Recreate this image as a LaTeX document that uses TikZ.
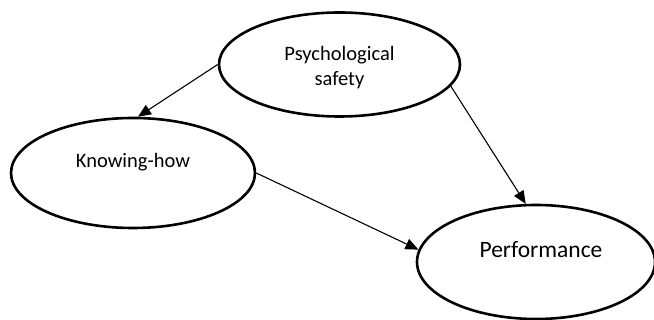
\documentclass[tikz,border=0pt]{standalone}
\usepackage{fontspec}
\setmainfont{Carlito}
\usepackage{tikz}
\usetikzlibrary{arrows.meta,positioning,shapes.geometric}

\begin{document}
\begin{tikzpicture}[
  x=1pt,y=1pt,
  bubble/.style={draw,ellipse,line width=2.6pt,inner sep=0pt,
                 minimum width=241pt,minimum height=104pt},
  bubbletext/.style={font=\fontsize{20.5}{25}\selectfont,align=center},
  link/.style={-{Triangle[length=13pt,width=11pt]},line width=1.1pt}
]
\useasboundingbox (0,0) rectangle (654,320);

\node[bubble] (ps) at (339.5,255.5) {};
\node[bubble, on grid, below left=108.5pt and 206.5pt of ps,
      minimum width=244pt, minimum height=110pt] (kh) {};
\node[bubble, on grid, below right=197.5pt and 196.5pt of ps,
      minimum width=238pt, minimum height=114pt] (perf) {};

\node[bubbletext] (pstext) at ([yshift=-3pt]ps.center) {Psychological\\safety};
\node[bubbletext] (khtext) at ([yshift=11pt]kh.center) {Knowing-how};
\node[bubbletext, font=\fontsize{23.5}{28}\selectfont] (perftext)
     at ([yshift=12pt,xshift=5pt]perf.center) {Performance};

\draw[link] (ps.west) -- ([xshift=5pt]kh.north);
\draw[link] (ps.-11.5) -- (perf.100);
\draw[link] (kh.east) -- (perf.174);
\end{tikzpicture}
\end{document}
